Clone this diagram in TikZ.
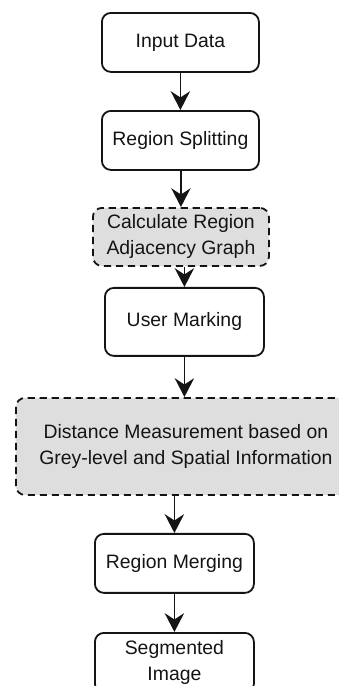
\documentclass[tikz,border=0pt]{standalone}
\usepackage{fontspec}
\setmainfont{Liberation Sans}
\usepackage{xcolor}
\usepackage{tikz}
\usetikzlibrary{positioning, arrows.meta, calc}
\definecolor{ink}{HTML}{141414}
\definecolor{shade}{HTML}{DEDEDE}

\begin{document}
\begin{tikzpicture}[
    font=\fontsize{9.7}{13}\selectfont,
    stepbox/.style 2 args={rounded corners=4.5pt, draw=ink, line width=0.9pt,
        fill=white, text=ink, minimum width=#1, minimum height=#2,
        align=center, inner sep=1pt},
    optbox/.style 2 args={stepbox={#1}{#2}, fill=shade,
        dash pattern=on 3.6pt off 2.4pt},
    flow/.style={-{Stealth[length=3.3mm, width=3.4mm, inset=1.1mm]},
        draw=ink, line width=0.9pt},
  ]
  \useasboundingbox (0mm,0mm) rectangle (59.57mm,-120.55mm);
  \node[stepbox={27.59mm}{10.37mm}, anchor=north west] (input_data) at (17.75mm,-2.11mm) {Input Data};
  \node[stepbox={27.59mm}{10.37mm}, anchor=north west] (region_splitting) at (17.75mm,-19.33mm) {Region Splitting};
  \node[optbox={30.93mm}{10.19mm}, anchor=north west] (calc_rag) at (16.17mm,-36.38mm) {Calculate Region\\Adjacency Graph};
  \node[stepbox={27.94mm}{11.95mm}, anchor=north west] (user_marking) at (18.28mm,-50.43mm) {User Marking};
  \node[optbox={59.75mm}{17.05mm}, anchor=north west] (distance) at (2.64mm,-69.77mm) {Distance Measurement based on\\Grey-level and Spatial Information};
  \node[stepbox={27.94mm}{10.37mm}, anchor=north west] (region_merging) at (16.52mm,-93.66mm) {Region Merging};
  \node[stepbox={27.94mm}{10.54mm}, anchor=north west] (segmented_image) at (16.52mm,-111.06mm) {Segmented\\Image};
  \draw[flow] (input_data) -- (region_splitting);
  \draw[flow] (calc_rag.north |- region_splitting.south) -- (calc_rag.north);
  \draw[flow] (user_marking.north |- calc_rag.south) -- (user_marking.north);
  \draw[flow] (user_marking.south) -- (user_marking.south |- distance.north);
  \draw[flow] (region_merging.north |- distance.south) -- (region_merging.north);
  \draw[flow] (region_merging) -- (segmented_image);
  \end{tikzpicture}
\end{document}
